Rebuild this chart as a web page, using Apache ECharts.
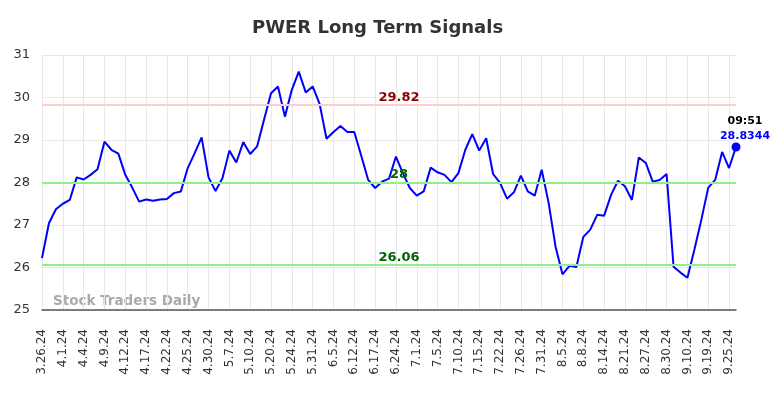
<!DOCTYPE html>
<html>
<head>
<meta charset="utf-8">
<script src="https://cdn.jsdelivr.net/npm/echarts@6/dist/echarts.min.js"></script>
<style>
  html, body { margin: 0; padding: 0; background: #fff; }
  #main { width: 784px; height: 398px; }
</style>
</head>
<body>
<div id="main"></div>
<script>
// trading days, a label is shown on every 3rd one
var dates = [
    '3.26.24', '3.27.24', '3.28.24', '4.1.24', '4.2.24', '4.3.24', '4.4.24', '4.5.24', '4.8.24',
    '4.9.24', '4.10.24', '4.11.24', '4.12.24', '4.15.24', '4.16.24', '4.17.24', '4.18.24', '4.19.24',
    '4.22.24', '4.23.24', '4.24.24', '4.25.24', '4.26.24', '4.29.24', '4.30.24', '5.1.24', '5.3.24',
    '5.7.24', '5.8.24', '5.9.24', '5.10.24', '5.13.24', '5.16.24', '5.20.24', '5.21.24', '5.22.24',
    '5.24.24', '5.28.24', '5.29.24', '5.31.24', '6.3.24', '6.4.24', '6.5.24', '6.6.24', '6.10.24',
    '6.12.24', '6.13.24', '6.14.24', '6.17.24', '6.18.24', '6.21.24', '6.24.24', '6.25.24', '6.27.24',
    '7.1.24', '7.2.24', '7.3.24', '7.5.24', '7.8.24', '7.9.24', '7.10.24', '7.11.24', '7.12.24',
    '7.15.24', '7.16.24', '7.18.24', '7.22.24', '7.23.24', '7.25.24', '7.26.24', '7.29.24', '7.30.24',
    '7.31.24', '8.1.24', '8.2.24', '8.5.24', '8.6.24', '8.7.24', '8.8.24', '8.9.24', '8.12.24',
    '8.14.24', '8.15.24', '8.19.24', '8.21.24', '8.22.24', '8.26.24', '8.27.24', '8.28.24', '8.29.24',
    '8.30.24', '9.3.24', '9.5.24', '9.10.24', '9.12.24', '9.16.24', '9.19.24', '9.20.24', '9.24.24',
    '9.25.24', '9.26.24'
];
var prices = [
    26.22, 27.04, 27.37, 27.50, 27.59, 28.12, 28.07, 28.18, 28.31, 28.96,
    28.77, 28.68, 28.18, 27.88, 27.55, 27.60, 27.57, 27.60, 27.61, 27.75,
    27.79, 28.34, 28.69, 29.06, 28.12, 27.80, 28.10, 28.75, 28.47, 28.95,
    28.67, 28.85, 29.48, 30.10, 30.26, 29.55, 30.18, 30.61, 30.12, 30.26,
    29.85, 29.03, 29.19, 29.33, 29.19, 29.19, 28.63, 28.06, 27.87, 28.02,
    28.09, 28.61, 28.22, 27.87, 27.69, 27.79, 28.35, 28.24, 28.18, 28.01,
    28.22, 28.77, 29.14, 28.75, 29.04, 28.20, 27.99, 27.62, 27.77, 28.16,
    27.79, 27.69, 28.30, 27.52, 26.49, 25.84, 26.04, 26.01, 26.72, 26.89,
    27.24, 27.22, 27.71, 28.04, 27.91, 27.59, 28.59, 28.46, 28.02, 28.06,
    28.20, 26.02, 25.88, 25.76, 26.42, 27.12, 27.88, 28.06, 28.72, 28.34,
    28.8344
];
var resistance = 29.82;
var middle = 28;
var support = 26.06;
var lastTime = '09:51';

var chart = echarts.init(document.getElementById('main'));

var last = prices.length - 1;

function levelLine(val, lineColor, textColor) {
    return {
        yAxis: val,
        lineStyle: { color: lineColor, width: 2, type: 'solid' },
        label: {
            show: true,
            position: 'insideMiddleTop',
            offset: [10, 4],
            formatter: String(val),
            color: textColor,
            fontWeight: 'bold',
            fontSize: 13,
            fontFamily: 'DejaVu Sans'
        }
    };
}

var option = {
    animation: false,
    backgroundColor: '#fff',
    title: {
        text: 'PWER Long Term Signals',
        left: 247,
        top: 14,
        textStyle: { fontSize: 18, fontWeight: 'bold', color: '#333', fontFamily: 'DejaVu Sans' }
    },
    grid: { left: 42, right: 48, top: 55, bottom: 88 },
    xAxis: {
        type: 'category',
        data: dates,
        boundaryGap: false,
        axisLine: { lineStyle: { color: '#555', width: 1.5 } },
        axisTick: { show: false },
        axisLabel: {
            interval: 2,
            rotate: 90,
            color: '#333',
            fontSize: 12,
            fontFamily: 'DejaVu Sans',
            margin: 19
        },
        splitLine: { show: true, interval: 2, lineStyle: { color: '#e8e8e8', width: 1 } }
    },
    yAxis: {
        type: 'value',
        min: 25,
        max: 31,
        interval: 1,
        axisLine: { show: false },
        axisTick: { show: false },
        axisLabel: { color: '#333', fontSize: 13, fontFamily: 'DejaVu Sans', margin: 12 },
        splitLine: { lineStyle: { color: '#e8e8e8', width: 1 } }
    },
    graphic: [{
        type: 'text',
        left: 53,
        top: 294,
        style: {
            text: 'Stock Traders Daily',
            fill: '#aaa',
            font: 'bold 13.5px "DejaVu Sans"'
        }
    }],
    series: [{
        type: 'line',
        data: prices,
        symbol: 'none',
        lineStyle: { color: '#0000ff', width: 2 },
        markLine: {
            silent: true,
            symbol: 'none',
            data: [
                levelLine(resistance, '#ffcccc', '#8b0000'),
                levelLine(middle, '#90ee90', '#006400'),
                levelLine(support, '#90ee90', '#006400')
            ]
        }
    }, {
        type: 'scatter',
        z: 5,
        data: [[dates[last], prices[last]]],
        symbol: 'circle',
        symbolSize: 9,
        itemStyle: { color: '#0000ff', opacity: 1 },
        label: {
            show: true,
            position: 'top',
            offset: [9, 6],
            formatter: '{t|' + lastTime + '}\n{v|' + prices[last] + '}',
            rich: {
                t: { color: '#000', fontWeight: 'bold', fontSize: 11, fontFamily: 'DejaVu Sans', lineHeight: 15 },
                v: { color: '#0000ff', fontWeight: 'bold', fontSize: 11, fontFamily: 'DejaVu Sans', lineHeight: 15 }
            }
        }
    }]
};

chart.setOption(option);
</script>
</body>
</html>
